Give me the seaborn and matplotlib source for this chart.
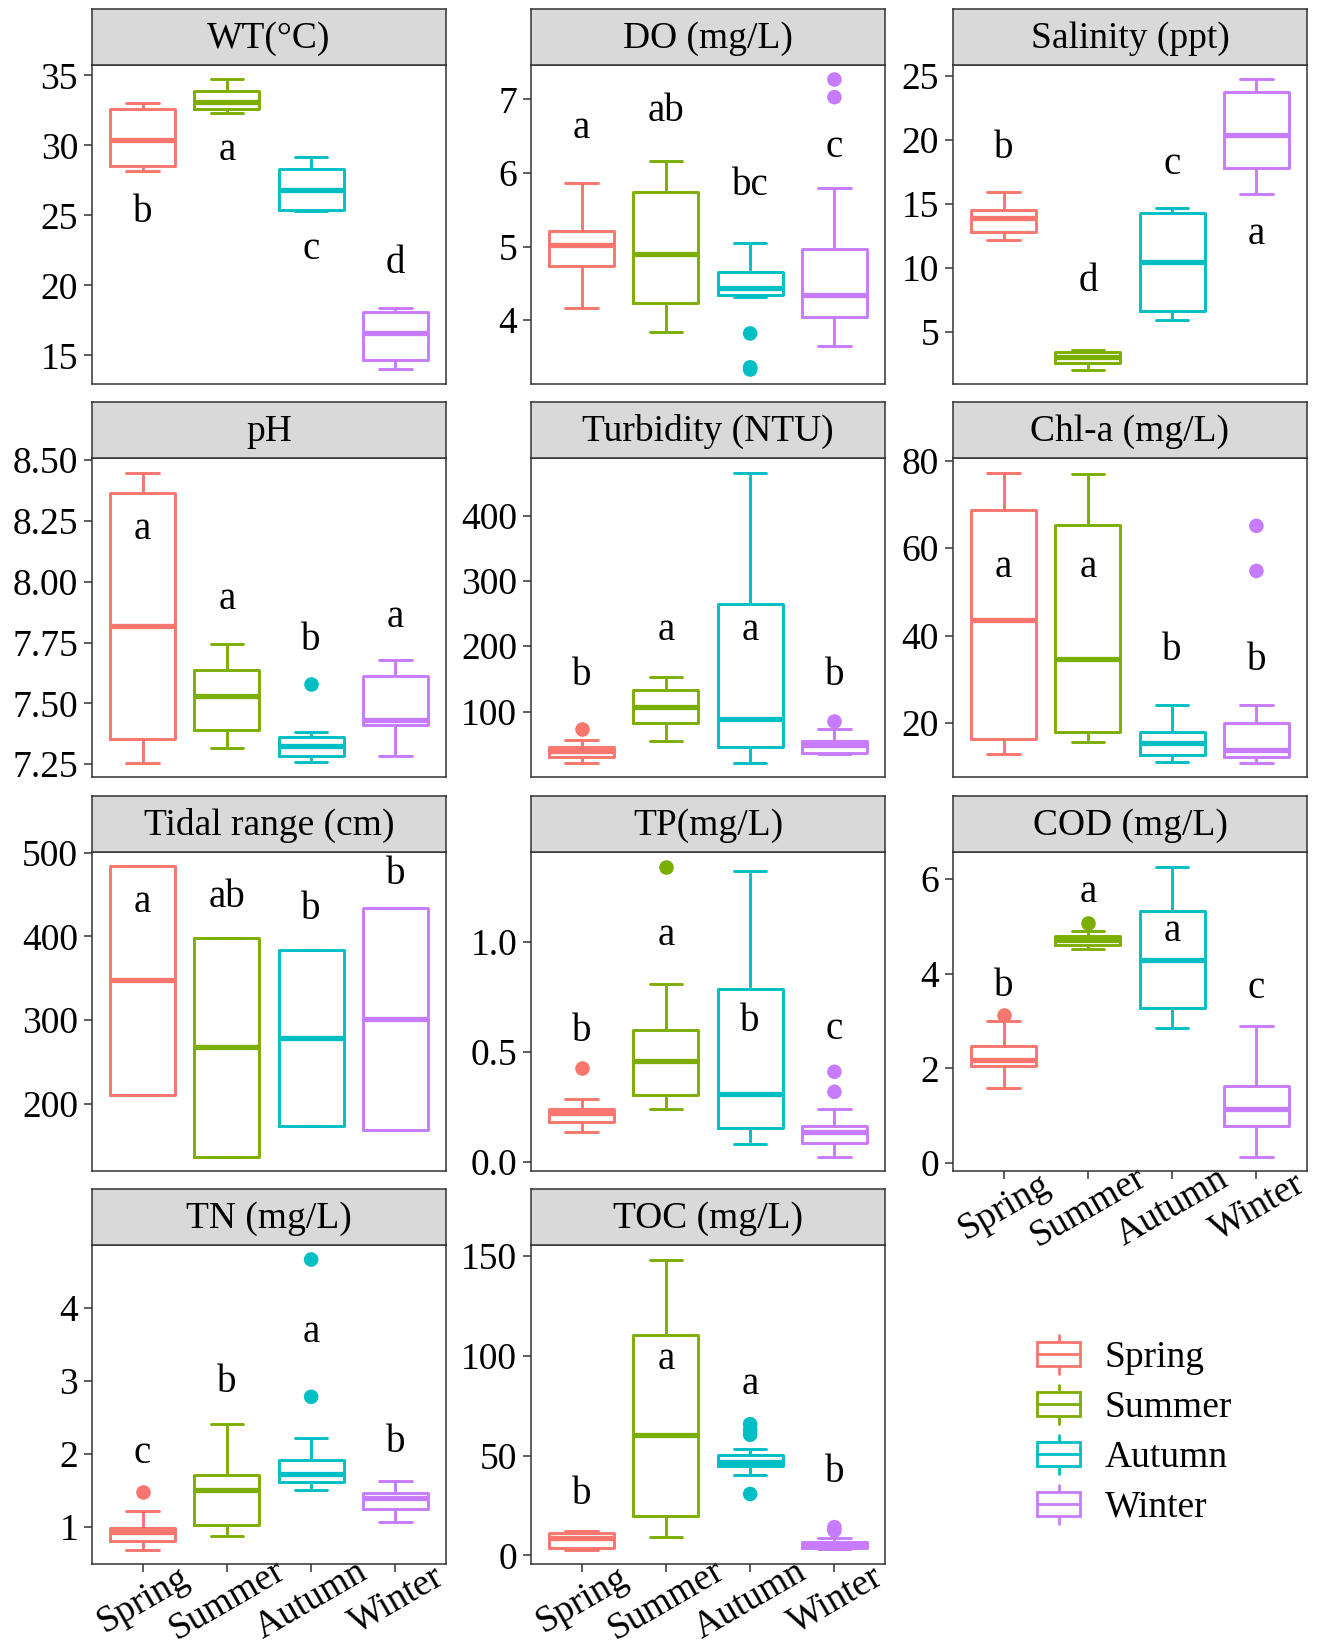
import pandas as pd
import matplotlib
matplotlib.use('Agg')
import matplotlib.pyplot as plt
import matplotlib.transforms as mtrans
from matplotlib.patches import Patch, Rectangle
from matplotlib.lines import Line2D
from matplotlib.legend_handler import HandlerBase
import seaborn as sns

seasons = ['Spring', 'Summer', 'Autumn', 'Winter']
colors = ['#F8766D', '#7CAE00', '#00BFC4', '#C77CFF']

# per season: [low whisker, Q1, median, Q3, high whisker]
wt_box = [[28.2, 28.5, 30.4, 32.6, 33.0], [32.3, 32.6, 33.1, 33.9, 34.7],
          [25.3, 25.4, 26.8, 28.3, 29.2], [14.0, 14.7, 16.6, 18.1, 18.4]]
wt_out = [[], [], [], []]
wt_let = ['b', 'a', 'c', 'd']
wt_let_y = [25.2, 29.6, 22.6, 21.6]
wt_ticks = [15, 20, 25, 30, 35]

do_box = [[4.16, 4.74, 5.02, 5.21, 5.86], [3.84, 4.24, 4.90, 5.74, 6.16],
          [4.32, 4.34, 4.44, 4.66, 5.05], [3.65, 4.05, 4.34, 4.97, 5.79]]
do_out = [[], [], [3.82, 3.36, 3.33], [7.03, 7.27]]
do_let = ['a', 'ab', 'bc', 'c']
do_let_y = [6.6, 6.83, 5.83, 6.35]
do_ticks = [4, 5, 6, 7]

sal_box = [[12.2, 12.8, 13.9, 14.5, 15.9], [2.06, 2.58, 3.05, 3.44, 3.62],
           [5.9, 6.6, 10.45, 14.3, 14.7], [15.8, 17.8, 20.4, 23.7, 24.7]]
sal_out = [[], [], [], []]
sal_let = ['b', 'd', 'c', 'a']
sal_let_y = [19.3, 8.95, 18.1, 12.6]
sal_ticks = [5, 10, 15, 20, 25]

ph_box = [[7.257, 7.353, 7.818, 8.363, 8.449], [7.318, 7.39, 7.531, 7.639, 7.746],
          [7.261, 7.284, 7.325, 7.362, 7.383], [7.284, 7.41, 7.43, 7.613, 7.679]]
ph_out = [[], [], [7.579], []]
ph_let = ['a', 'a', 'b', 'a']
ph_let_y = [8.215, 7.928, 7.757, 7.852]
ph_ticks = [7.25, 7.50, 7.75, 8.00, 8.25, 8.50]

tur_box = [[22, 31, 40, 46, 56], [55, 83, 107, 133, 153],
           [22, 45, 88, 265, 466], [35, 37, 49, 55, 74]]
tur_out = [[73], [], [], [85]]
tur_let = ['b', 'a', 'a', 'b']
tur_let_y = [155, 224, 224, 155]
tur_ticks = [100, 200, 300, 400]

chl_box = [[12.9, 16.4, 43.6, 68.8, 77.3], [15.75, 17.9, 34.65, 65.4, 77.0],
           [11.2, 12.7, 15.4, 17.9, 24.1], [11.0, 12.2, 13.8, 20.0, 24.1]]
chl_out = [[], [], [], [54.8, 65.1]]
chl_let = ['a', 'a', 'b', 'b']
chl_let_y = [55.6, 55.6, 36.6, 34.3]
chl_ticks = [20, 40, 60, 80]

tid_box = [[210.7, 210.7, 347.4, 483.4, 483.4], [137.3, 137.3, 268, 397.7, 397.7],
           [174.2, 174.2, 278.8, 383.9, 383.9], [169, 169, 301, 433.4, 433.4]]
tid_out = [[], [], [], []]
tid_let = ['a', 'ab', 'b', 'b']
tid_let_y = [440.5, 446.5, 432.6, 474.2]
tid_ticks = [200, 300, 400, 500]

tp_box = [[0.136, 0.183, 0.223, 0.238, 0.287], [0.238, 0.303, 0.457, 0.597, 0.807],
          [0.08, 0.155, 0.306, 0.786, 1.32], [0.024, 0.084, 0.137, 0.163, 0.238]]
tp_out = [[0.424], [1.342], [], [0.318, 0.409]]
tp_let = ['b', 'a', 'b', 'c']
tp_let_y = [0.593, 1.03, 0.638, 0.60]
tp_ticks = [0.0, 0.5, 1.0]

cod_box = [[1.58, 2.05, 2.18, 2.47, 3.0], [4.51, 4.61, 4.70, 4.79, 4.9],
           [2.86, 3.28, 4.29, 5.33, 6.26], [0.14, 0.79, 1.14, 1.63, 2.9]]
cod_out = [[3.12], [5.07], [], []]
cod_let = ['b', 'a', 'a', 'c']
cod_let_y = [3.72, 5.72, 4.88, 3.68]
cod_ticks = [0, 2, 4, 6]

tn_box = [[0.69, 0.80, 0.93, 0.986, 1.215], [0.88, 1.03, 1.51, 1.71, 2.41],
          [1.50, 1.61, 1.72, 1.92, 2.21], [1.07, 1.24, 1.40, 1.47, 1.63]]
tn_out = [[1.475], [], [2.78, 4.66], []]
tn_let = ['c', 'b', 'a', 'b']
tn_let_y = [2.0, 2.97, 3.66, 2.15]
tn_ticks = [1, 2, 3, 4]

toc_box = [[3.0, 3.7, 8.7, 11.2, 12.2], [9.5, 20, 60.3, 110.7, 148.3],
           [40.3, 44.7, 47, 50.3, 53.3], [3.3, 3.7, 5.5, 6.7, 8.7]]
toc_out = [[], [], [30.8, 60.5, 62.8, 65.8], [12.5, 14.2]]
toc_let = ['b', 'a', 'a', 'b']
toc_let_y = [30.8, 98.3, 85.8, 41.7]
toc_ticks = [0, 50, 100, 150]

panels = [
    ('WT(°C)', wt_box, wt_out, wt_let, wt_let_y, wt_ticks, '{:g}'),
    ('DO (mg/L)', do_box, do_out, do_let, do_let_y, do_ticks, '{:g}'),
    ('Salinity (ppt)', sal_box, sal_out, sal_let, sal_let_y, sal_ticks, '{:g}'),
    ('pH', ph_box, ph_out, ph_let, ph_let_y, ph_ticks, '{:.2f}'),
    ('Turbidity (NTU)', tur_box, tur_out, tur_let, tur_let_y, tur_ticks, '{:g}'),
    ('Chl-a (mg/L)', chl_box, chl_out, chl_let, chl_let_y, chl_ticks, '{:g}'),
    ('Tidal range (cm)', tid_box, tid_out, tid_let, tid_let_y, tid_ticks, '{:g}'),
    ('TP(mg/L)', tp_box, tp_out, tp_let, tp_let_y, tp_ticks, '{:.1f}'),
    ('COD (mg/L)', cod_box, cod_out, cod_let, cod_let_y, cod_ticks, '{:g}'),
    ('TN (mg/L)', tn_box, tn_out, tn_let, tn_let_y, tn_ticks, '{:g}'),
    ('TOC (mg/L)', toc_box, toc_out, toc_let, toc_let_y, toc_ticks, '{:g}'),
]
bottom_panels = {'COD (mg/L)', 'TN (mg/L)', 'TOC (mg/L)'}

sns.set_theme(style='white')
plt.rcParams['font.family'] = ['Liberation Serif', 'DejaVu Serif']
plt.rcParams['text.color'] = 'black'

W, H = 1324, 1646
fig = plt.figure(figsize=(W / 100, H / 100), dpi=100)
col_x = [92, 531, 953]
row_top = [65, 458, 852, 1245]
pw, ph = 354, 319
strip_h = 56
edge = '#333333'
fs = 27
label_shift = mtrans.ScaledTranslation(-8 / 100, -11 / 100, fig.dpi_scale_trans)

for i, (title, box, out, let, let_y, ticks, fmt) in enumerate(panels):
    r, c = divmod(i, 3)
    x0, top = col_x[c], row_top[r]
    ax = fig.add_axes([x0 / W, 1 - (top + ph) / H, pw / W, ph / H])
    strip = fig.add_axes([x0 / W, 1 - top / H, pw / W, strip_h / H])

    df = pd.DataFrame([(s, v) for s, st in zip(seasons, box) for v in st],
                      columns=['season', 'value'])
    sns.boxplot(data=df, x='season', y='value', hue='season', order=seasons,
                hue_order=seasons, palette=colors, fill=False, whis=(0, 100),
                width=0.77, dodge=False, saturation=1, linewidth=2.1,
                legend=False, medianprops={'linewidth': 3.8}, ax=ax)

    odf = pd.DataFrame([(s, v) for s, vs in zip(seasons, out) for v in vs],
                       columns=['season', 'value'])
    if len(odf):
        sns.stripplot(data=odf, x='season', y='value', hue='season', order=seasons,
                      hue_order=seasons, palette=colors, jitter=False, size=10.5,
                      linewidth=0, legend=False, ax=ax)

    for j, (t, y) in enumerate(zip(let, let_y)):
        ax.text(j, y, t, ha='center', va='center', fontsize=28, color='black')

    vals = [v for st in box for v in st] + [v for vs in out for v in vs] + list(let_y)
    lo, hi = min(vals), max(vals)
    pad = 0.05 * (hi - lo)
    ax.set_ylim(lo - pad, hi + pad)
    ax.set_xlim(-0.6, 3.6)
    ax.set_yticks(ticks)
    ax.set_yticklabels([fmt.format(t) for t in ticks])
    ax.set_xlabel('')
    ax.set_ylabel('')
    ax.tick_params(axis='both', direction='out', length=5.5, width=1.1, color=edge,
                   labelsize=fs, labelcolor='black', pad=4.5, left=True, bottom=True)
    if title in bottom_panels:
        ax.set_xticks(range(4))
        ax.set_xticklabels(seasons, rotation=30, ha='center', va='top',
                           rotation_mode='anchor')
        ax.tick_params(axis='x', pad=2)
        for lab in ax.get_xticklabels():
            lab.set_transform(lab.get_transform() + label_shift)
    else:
        ax.set_xticks([])
    for sp in ax.spines.values():
        sp.set_visible(True)
        sp.set_color(edge)
        sp.set_linewidth(1.1)

    strip.set_facecolor('#D9D9D9')
    strip.set_xticks([])
    strip.set_yticks([])
    for sp in strip.spines.values():
        sp.set_visible(True)
        sp.set_color(edge)
        sp.set_linewidth(1.1)
    strip.text(0.5, 0.47, title, ha='center', va='center', fontsize=fs,
               transform=strip.transAxes)


class BoxHandler(HandlerBase):
    def create_artists(self, legend, orig_handle, xdescent, ydescent, width,
                       height, fontsize, trans):
        c = orig_handle.get_edgecolor()
        x0, y0 = -xdescent, -ydescent
        bh = 0.62 * height
        by = y0 + (height - bh) / 2
        xm = x0 + width / 2
        rect = Rectangle((x0, by), width, bh, facecolor='white', edgecolor=c,
                         lw=2, transform=trans)
        med = Line2D([x0, x0 + width], [y0 + height / 2] * 2, color=c, lw=2,
                     transform=trans)
        w1 = Line2D([xm, xm], [y0, by], color=c, lw=2, transform=trans)
        w2 = Line2D([xm, xm], [by + bh, y0 + height], color=c, lw=2, transform=trans)
        return [w1, w2, rect, med]


handles = [Patch(edgecolor=c, facecolor='white', label=s) for s, c in zip(seasons, colors)]
fig.legend(handles=handles, handler_map={Patch: BoxHandler()}, loc='center left',
           bbox_to_anchor=(1037 / W, 1 - 1430 / H), frameon=False, fontsize=fs,
           handlelength=1.15, handleheight=1.2, labelspacing=0.27,
           handletextpad=0.65, borderpad=0, borderaxespad=0)

fig.savefig('out.png', dpi=100)
plt.close()
